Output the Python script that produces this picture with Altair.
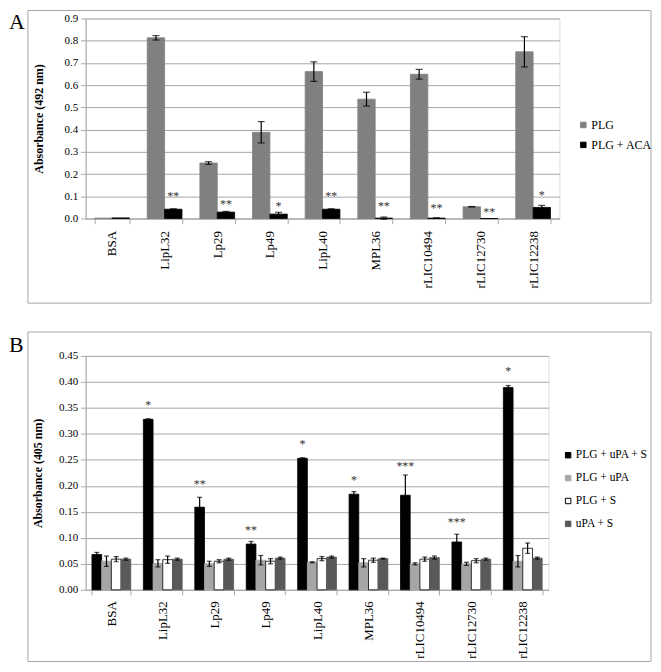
import altair as alt
import pandas as pd

SERIF = "Liberation Serif"

cats = ["BSA", "LipL32", "Lp29", "Lp49", "LipL40", "MPL36", "rLIC10494", "rLIC12730", "rLIC12238"]

# ---------------- Panel A ----------------
a_series = ["PLG", "PLG + ACA"]
a_colors = ["#808080", "#000000"]
a_plg = [0.002, 0.813, 0.250, 0.388, 0.661, 0.537, 0.649, 0.053, 0.750]
a_plg_err = [0.0, 0.010, 0.006, 0.048, 0.044, 0.031, 0.022, 0.001, 0.068]
a_aca = [0.003, 0.042, 0.029, 0.020, 0.042, 0.002, 0.002, 0.0, 0.050]
a_aca_err = [0.0, 0.002, 0.003, 0.008, 0.002, 0.005, 0.001, 0.0, 0.009]
a_stars = ["", "**", "**", "*", "**", "**", "**", "**", "*"]
a_star_y = [0.0, 0.110, 0.073, 0.066, 0.110, 0.066, 0.055, 0.037, 0.116]

# ---------------- Panel B ----------------
b_series = ["PLG + uPA + S", "PLG + uPA", "PLG + S", "uPA + S"]
b_fill = ["#000000", "#a6a6a6", "#ffffff", "#595959"]
b_stroke = ["#000000", "#a6a6a6", "#000000", "#595959"]
b_vals = [
    [0.068, 0.328, 0.159, 0.088, 0.253, 0.184, 0.182, 0.092, 0.389],
    [0.055, 0.051, 0.050, 0.057, 0.053, 0.052, 0.050, 0.050, 0.055],
    [0.059, 0.058, 0.055, 0.055, 0.060, 0.057, 0.059, 0.056, 0.080],
    [0.059, 0.059, 0.059, 0.061, 0.063, 0.060, 0.062, 0.059, 0.061],
]
b_errs = [
    [0.004, 0.001, 0.019, 0.005, 0.001, 0.005, 0.039, 0.015, 0.004],
    [0.010, 0.007, 0.005, 0.009, 0.001, 0.008, 0.002, 0.003, 0.011],
    [0.005, 0.007, 0.003, 0.005, 0.004, 0.004, 0.004, 0.004, 0.010],
    [0.002, 0.002, 0.002, 0.002, 0.002, 0.001, 0.003, 0.002, 0.002],
]
b_stars = ["", "*", "**", "**", "*", "*", "***", "***", "*"]
b_star_y = [0.0, 0.360, 0.207, 0.118, 0.285, 0.216, 0.242, 0.134, 0.424]


def make_df(series, vals, errs):
    rows = []
    for s, v, e in zip(series, vals, errs):
        for c, vi, ei in zip(cats, v, e):
            rows.append(dict(cat=c, series=s, value=vi, lo=vi - ei, hi=vi + ei, err=ei))
    return pd.DataFrame(rows)


def make_stars(series, labels, ys):
    rows = [dict(cat=c, series=series, label=l, sy=y) for c, l, y in zip(cats, labels, ys) if l]
    return pd.DataFrame(rows)


def panel(df, sdf, series, fills, strokes, ymax, ticks, fmt, title, width, height,
          pad_in, capw, legx, legy, rowpad, legfs, letter, frame_y0, frame_y1, letter_y,
          title_pad, lab_pad):
    xaxis = alt.Axis(title=None, labelAngle=270, labelFont=SERIF, labelFontSize=13,
                     labelColor="black", tickBand="extent", domainColor="#a6a6a6",
                     tickColor="#a6a6a6", tickSize=5, labelPadding=lab_pad, grid=False)
    x = alt.X("cat:N", sort=cats,
              scale=alt.Scale(type="band", domain=cats, paddingInner=pad_in,
                              paddingOuter=pad_in / 2),
              axis=xaxis)
    xo = alt.XOffset("series:N", sort=series,
                     scale=alt.Scale(type="band", domain=series, paddingInner=0, paddingOuter=0))
    yscale = alt.Scale(domain=[0, ymax], nice=False, zero=True)
    yaxis = alt.Axis(values=ticks, format=fmt, title=title, titleFont=SERIF, titleFontSize=12,
                     titleFontWeight="bold", titleColor="black", titlePadding=title_pad,
                     labelFont=SERIF, labelFontSize=11, labelColor="black", labelPadding=3,
                     tickSize=5, tickColor="#a6a6a6", domainColor="#a6a6a6",
                     gridColor="#a6a6a6", gridWidth=1, labelOverlap=False)
    leg = alt.Legend(title=None, orient="none", legendX=legx, legendY=legy, labelFont=SERIF,
                     labelFontSize=legfs, labelColor="black", symbolType="square",
                     symbolSize=30, symbolStrokeWidth=1, labelOffset=2, rowPadding=rowpad,
                     padding=0)
    base = alt.Chart(df)
    bars = base.mark_bar(strokeWidth=0.8).encode(
        x=x, xOffset=xo,
        y=alt.Y("value:Q", scale=yscale, axis=yaxis),
        fill=alt.Fill("series:N", scale=alt.Scale(domain=series, range=fills), legend=leg),
        stroke=alt.Stroke("series:N", scale=alt.Scale(domain=series, range=strokes), legend=leg),
    )
    edf = base.transform_filter("datum.err > 0")
    rules = edf.mark_rule(color="black", strokeWidth=1.2).encode(
        x=x, xOffset=xo, y=alt.Y("lo:Q", scale=yscale, axis=yaxis), y2="hi:Q")
    cap_lo = edf.mark_tick(color="black", thickness=1.2, size=capw).encode(
        x=x, xOffset=xo, y=alt.Y("lo:Q", scale=yscale, axis=yaxis))
    cap_hi = edf.mark_tick(color="black", thickness=1.2, size=capw).encode(
        x=x, xOffset=xo, y=alt.Y("hi:Q", scale=yscale, axis=yaxis))
    stars = alt.Chart(sdf).mark_text(font=SERIF, fontSize=12, color="#333333",
                                     baseline="alphabetic", dy=6).encode(
        x=x, xOffset=xo, y=alt.Y("sy:Q", scale=yscale, axis=yaxis), text="label:N")
    one = alt.Data(values=[{"k": 1}])
    frame = alt.Chart(one).mark_rect(fillOpacity=0, stroke="#a6a6a6", strokeWidth=1).encode(
        x=alt.value(-58), x2=alt.value(568), y=alt.value(frame_y0), y2=alt.value(frame_y1))
    let = alt.Chart(one).mark_text(font=SERIF, fontSize=22, align="left", baseline="top",
                                   color="black").encode(
        x=alt.value(-77), y=alt.value(letter_y), text=alt.value(letter))
    return alt.layer(frame, bars, rules, cap_lo, cap_hi, stars, let).properties(
        width=width, height=height)


dfA = make_df(a_series, [a_plg, a_aca], [a_plg_err, a_aca_err])
sA = make_stars("PLG + ACA", a_stars, a_star_y)
ticksA = [round(i * 0.1, 1) for i in range(10)]
chartA = panel(dfA, sA, a_series, a_colors, a_colors, 0.9, ticksA, ".1f", "Absorbance (492 nm)",
               476, 201, 0.34, 7, 494, 101, 8, 12, "A", -8, 286, -6, 19, 7)

dfB = make_df(b_series, b_vals, b_errs)
sB = make_stars("PLG + uPA + S", b_stars, b_star_y)
ticksB = [round(i * 0.05, 2) for i in range(10)]
chartB = panel(dfB, sB, b_series, b_fill, b_stroke, 0.45, ticksB, ".2f", "Absorbance (405 nm)",
               465, 235, 0.245, 5, 479, 94, 10, 11.5, "B", -24, 307, -21, 14, 6)

chart = alt.vconcat(chartA, chartB, spacing=27).resolve_scale(
    x="independent", y="independent", xOffset="independent",
    fill="independent", stroke="independent"
).properties(padding={"left": 0, "top": 0, "right": 0, "bottom": 0}).configure_view(
    strokeWidth=0).configure(background="white")

chart.save("out.html", embed_options={"renderer": "svg", "actions": False})
